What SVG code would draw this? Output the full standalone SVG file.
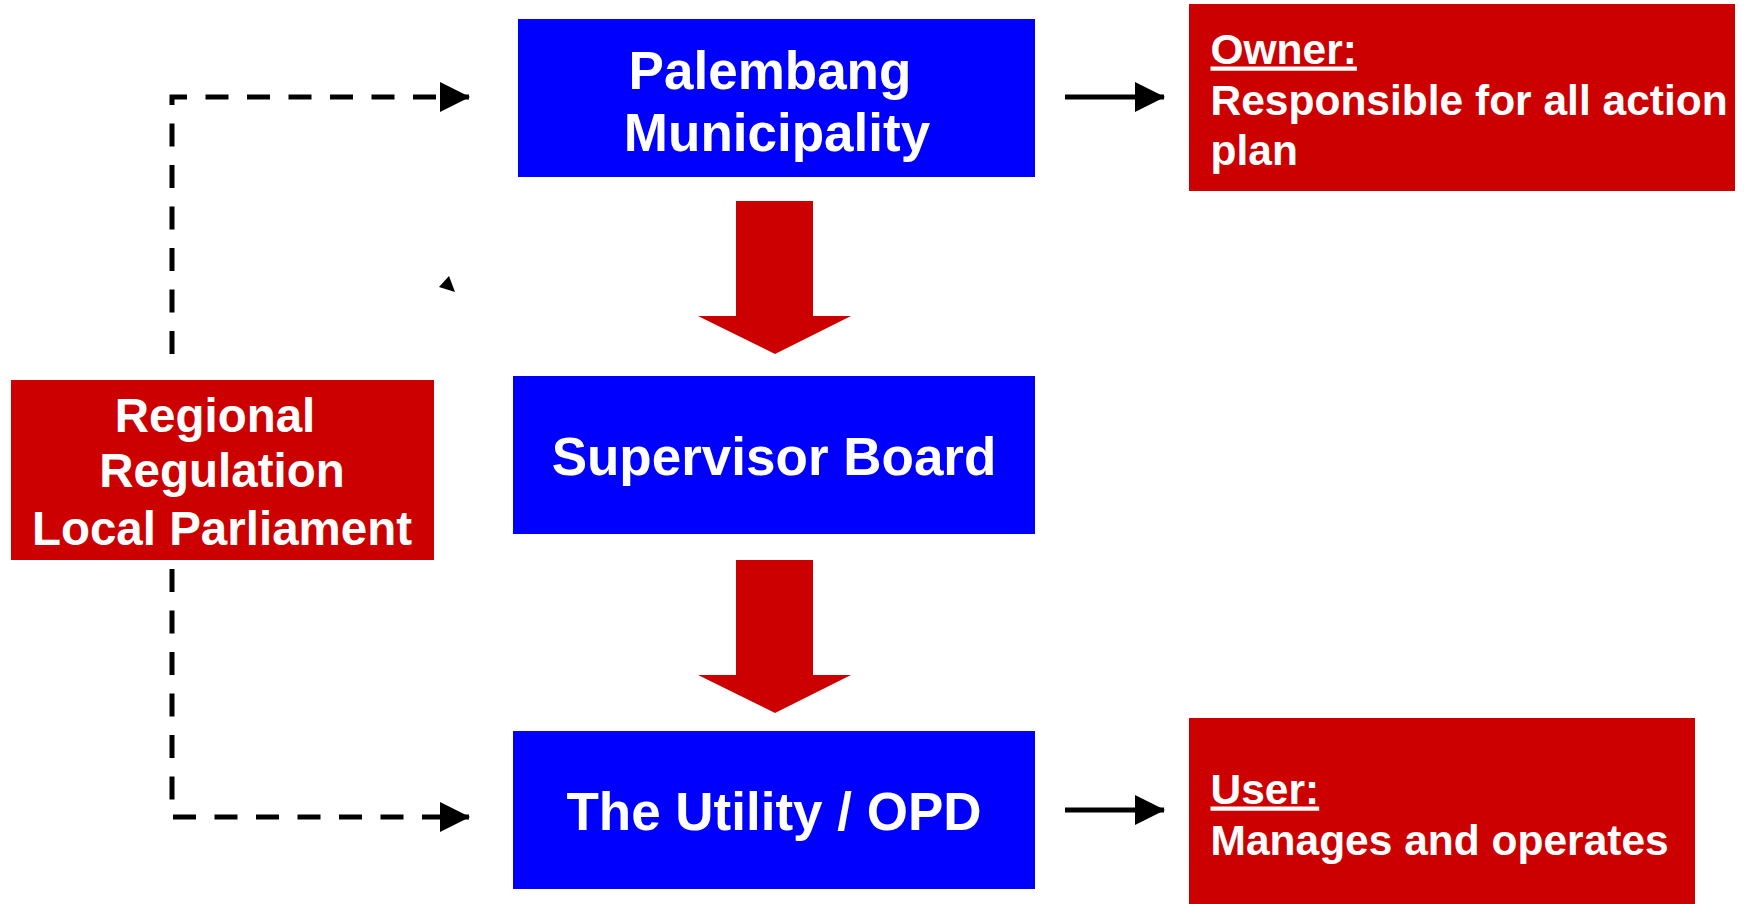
<svg xmlns="http://www.w3.org/2000/svg" width="1750" height="904" viewBox="0 0 1750 904">
<style>
.blue{fill:#0000FF}
.red{fill:#CC0000}
.t{font-family:"Liberation Sans",Arial,sans-serif;font-weight:bold;fill:#FFFFFF}
.c{text-anchor:middle}
.dash{fill:none;stroke:#000;stroke-width:5;stroke-dasharray:23 18.5}
.solid{fill:none;stroke:#000;stroke-width:5}
</style>
<defs>
<marker id="ah" markerUnits="userSpaceOnUse" viewBox="0 0 30 30" refX="29" refY="15" markerWidth="30" markerHeight="30" orient="auto">
<path d="M0,0 L30,15 L0,30 z" fill="#000"/>
</marker>
</defs>
<g id="palembang">
<rect class="blue" x="518" y="19" width="517" height="158"/>
<text class="t c" font-size="53" x="770" y="88.5">Palembang</text>
<text class="t c" font-size="53" x="777" y="151">Municipality</text>
</g>
<g id="supervisor">
<rect class="blue" x="513" y="376" width="522" height="158"/>
<text class="t c" font-size="53" x="774" y="475">Supervisor Board</text>
</g>
<g id="utility">
<rect class="blue" x="513" y="731" width="522" height="158"/>
<text class="t c" font-size="53" x="774" y="830">The Utility / OPD</text>
</g>
<g id="regional">
<rect class="red" x="11" y="380" width="423" height="180"/>
<text class="t c" font-size="47.5" x="215" y="431.5">Regional</text>
<text class="t c" font-size="47.5" x="222" y="487">Regulation</text>
<text class="t c" font-size="47.5" x="222" y="545">Local Parliament</text>
</g>
<g id="owner">
<rect class="red" x="1189" y="4" width="546" height="187"/>
<text class="t" font-size="42.5" x="1210.5" y="63.5" text-decoration="underline">Owner:</text>
<text class="t" font-size="42.5" x="1210.5" y="114.5">Responsible for all action</text>
<text class="t" font-size="42.5" x="1210.5" y="165">plan</text>
</g>
<g id="user">
<rect class="red" x="1189" y="718" width="506" height="186"/>
<text class="t" font-size="42.5" x="1210.5" y="803.5" text-decoration="underline">User:</text>
<text class="t" font-size="42.5" x="1210.5" y="854.5">Manages and operates</text>
</g>
<g id="connectors">
<path class="red" d="M736,201 H813 V316 H851 L775,354 L698,316 H736 Z"/>
<path class="red" d="M736,560 H813 V675 H851 L775,713 L698,675 H736 Z"/>
<path class="dash" d="M172,354 V97 H469" marker-end="url(#ah)"/>
<path class="dash" d="M172,569 V817 H469" marker-end="url(#ah)"/>
<path class="solid" d="M1065,97 H1164" marker-end="url(#ah)"/>
<path class="solid" d="M1065,810 H1164" marker-end="url(#ah)"/>
<path d="M439,287 L449,276 L455,292 Z" fill="#000"/>
</g>
</svg>
